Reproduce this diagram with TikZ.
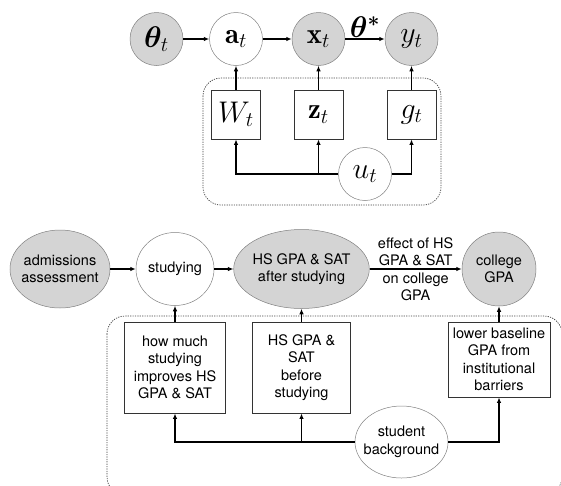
\documentclass[tikz,border=0pt]{standalone}
\usepackage{amsmath}
\usepackage{bm}
\usepackage{graphicx}
\usepackage{fontspec}
\newfontfamily\helv{TeX Gyre Heros}
\usetikzlibrary{arrows.meta,shapes.geometric}

\newcommand{\modelfont}{\fontsize{24}{28}\selectfont}
\newcommand{\worldfont}{\helv\fontsize{14.5}{17.5}\selectfont}
\newcommand{\msym}[1]{\scalebox{1.2}{$#1$}}

\begin{document}
\begin{tikzpicture}[x=1pt, y=-1pt, >={Latex[length=5.5pt,width=4.5pt]},
	mvar/.style={circle, draw=black!50, line width=0.5pt, minimum size=53pt, inner sep=0pt, font=\modelfont},
	mobs/.style={mvar, fill=black!17},
	mbox/.style={draw=black!80, line width=0.8pt, minimum width=49pt, minimum height=49pt, inner sep=0pt, font=\modelfont},
	wvar/.style={ellipse, draw=black!50, line width=0.5pt, inner sep=0pt, align=center, font=\worldfont},
	wobs/.style={wvar, fill=black!17},
	wbox/.style={draw=black!80, line width=0.8pt, inner sep=0pt, align=center, font=\worldfont},
	wtext/.style={inner sep=0pt, align=center, font=\worldfont},
	link/.style={->, line width=1.3pt},
	plate/.style={draw=black!75, line width=0.7pt, dash pattern=on 1.2pt off 1.2pt, rounded corners=18pt}]
	
	\clip (0,0) rectangle (561,485);
	
	% Modell oben
	\node[mobs] (theta) at (156.5,39) {\msym{\bm{\theta}_t}};
	\node[mvar] (a) at (236,39) {\msym{\mathbf{a}_t}};
	\node[mobs] (x) at (318.5,39) {\msym{\mathbf{x}_t}};
	\node[mobs] (y) at (411.5,39) {\msym{y_t}};
	
	\draw[link] (theta) -- (a);
	\draw[link] (a) -- (x);
	\draw[link] (x) -- node[above=1pt, inner sep=0pt, font=\modelfont] (thetastar) {\msym{\bm{\theta}^{\bm{*}}}} (y);
	
	% Plate oben
	\draw[plate] (203,78) rectangle (441,205);
	\node[mbox] (W) at (236,114.5) {\msym{W_t}};
	\node[mbox] (z) at (318.5,114.5) {\msym{\mathbf{z}_t}};
	\node[mbox] (g) at (411.5,114.5) {\msym{g_t}};
	\node[mvar] (u) at (365,174) {\msym{u_t}};
	
	\draw[link] (W) -- (a);
	\draw[link] (z) -- (x);
	\draw[link] (g) -- (y);
	
	\coordinate (zjoin) at (z |- u);
	\draw[link] (u) -| (W);
	\draw[link] (zjoin) -- (z);
	\draw[link] (u) -| (g);
	
	% Beispiel unten
	\node[wobs, minimum width=100pt, minimum height=78pt, inner xsep=-7pt] (adm) at (60,269) {admissions\\assessment};
	\node[wvar, minimum width=78pt, minimum height=73pt] (study) at (175,269) {studying};
	\node[wobs, minimum width=121pt, minimum height=79pt, inner xsep=-1pt] (after) at (301.5,269) {HS GPA \& SAT\\after studying};
	\node[wobs, circle, minimum size=74pt] (gpa) at (499,269) {college\\GPA};
	
	\draw[link] (adm) -- (study);
	\draw[link] (study) -- (after);
	\draw[link] (after) -- node[wtext] (effect) {effect of HS\\GPA \& SAT\\on college\\GPA} (gpa);
	
	% Plate unten
	\draw[plate] (107,316) rectangle (562,495);
	\node[wbox, minimum width=101pt, minimum height=91pt] (improve) at (175,367.5) {how much\\studying\\improves HS\\GPA \& SAT};
	\node[wbox, minimum width=98pt, minimum height=91pt] (before) at (301.5,367.5) {HS GPA \&\\SAT\\before\\studying};
	\node[wbox, minimum width=102pt, minimum height=75pt] (barrier) at (499,359.5) {lower baseline\\GPA from\\institutional\\barriers};
	\node[wvar, minimum width=93pt, minimum height=72pt, inner xsep=-5pt] (bg) at (401.5,442) {student\\background};
	
	\draw[link] (improve) -- (study);
	\draw[link] (before) -- (after);
	\draw[link] (barrier) -- (gpa);
	
	\coordinate (bgjoin) at (before |- bg);
	\draw[link] (bg) -| (improve);
	\draw[link] (bgjoin) -- (before);
	\draw[link] (bg) -| (barrier);
\end{tikzpicture}
\end{document}
